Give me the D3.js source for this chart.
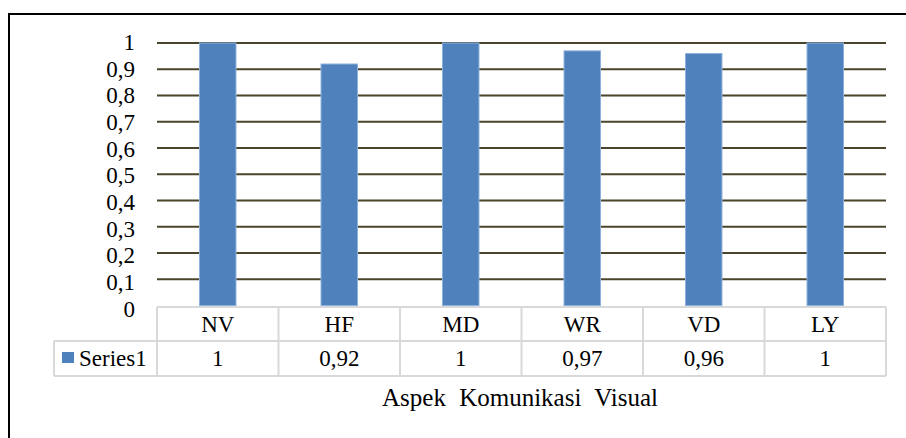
<!DOCTYPE html>
<html><head><meta charset="utf-8">
<script src="https://cdn.jsdelivr.net/npm/d3@7"></script>
<style>body{margin:0;background:#fff}svg{display:block}text{font-family:"Liberation Serif","Times New Roman",serif}</style>
</head><body>
<svg id="c" width="906" height="438"></svg>
<script>
const categories = ["NV","HF","MD","WR","VD","LY"];
const values = [1, 0.92, 1, 0.97, 0.96, 1];
const valueLabels = ["1","0,92","1","0,97","0,96","1"];
const yTicks = [0,0.1,0.2,0.3,0.4,0.5,0.6,0.7,0.8,0.9,1];
const seriesName = "Series1";
const axisTitle = "Aspek Komunikasi Visual";

const svg = d3.select("#c");
const FF = "Liberation Serif, Times New Roman, serif";
const FS = 23;
const L = 157, R = 886, T = 43, B = 305.5;
const x = d3.scaleBand().domain(categories).range([L, R]).paddingInner(0.7).paddingOuter(0.35);
const xc = d3.scaleBand().domain(categories).range([L, R]);
const y = d3.scaleLinear().domain([0, 1]).range([B, T]);
const yLab = d3.scaleLinear().domain([0, 1]).range([B + 11, T + 7]);

// outer border
svg.append("rect").attr("x", 9).attr("y", 14).attr("width", 910).attr("height", 440)
  .attr("fill", "none").attr("stroke", "#000").attr("stroke-width", 2);

// gridlines
svg.append("g").selectAll("line").data(yTicks.filter(d => d > 0)).join("line")
  .attr("x1", L).attr("x2", R).attr("y1", d => y(d)).attr("y2", d => y(d))
  .attr("stroke", "#4a452a").attr("stroke-width", 2);

// y labels
svg.append("g").selectAll("text").data(yTicks).join("text")
  .attr("x", 135).attr("y", d => yLab(d)).attr("text-anchor", "end")
  .attr("font-family", FF).attr("font-size", FS).attr("fill", "#000")
  .text(d => d3.format(".1~f")(d).replace(".", ","));

// bars
svg.append("g").selectAll("rect").data(values).join("rect")
  .attr("x", (d, i) => x(categories[i])).attr("width", x.bandwidth())
  .attr("y", d => y(d)).attr("height", d => B - y(d))
  .attr("fill", "#4f81bd").attr("stroke", "#8eb1dc").attr("stroke-width", 1);

// data table
const r1T = 307, r1B = 341, r2B = 376, legL = 54;
const g = svg.append("g").attr("stroke", "#d9d9d9").attr("stroke-width", 2);
g.append("line").attr("x1", L).attr("x2", R).attr("y1", r1T).attr("y2", r1T);
g.append("line").attr("x1", legL).attr("x2", R).attr("y1", r1B).attr("y2", r1B);
g.append("line").attr("x1", legL).attr("x2", R).attr("y1", r2B).attr("y2", r2B);
g.append("line").attr("x1", legL).attr("x2", legL).attr("y1", r1B).attr("y2", r2B);
g.selectAll("line.v").data(categories.map(c => xc(c)).concat([R])).join("line")
  .attr("class", "v").attr("x1", d => d).attr("x2", d => d).attr("y1", r1T).attr("y2", r2B);

svg.append("g").selectAll("text").data(categories).join("text")
  .attr("x", d => xc(d) + xc.bandwidth() / 2).attr("y", r1T + 25).attr("text-anchor", "middle")
  .attr("font-family", FF).attr("font-size", FS).text(d => d);
svg.append("g").selectAll("text").data(valueLabels).join("text")
  .attr("x", (d, i) => xc(categories[i]) + xc.bandwidth() / 2).attr("y", r1B + 25).attr("text-anchor", "middle")
  .attr("font-family", FF).attr("font-size", FS).text(d => d);

svg.append("rect").attr("x", 62).attr("y", 352).attr("width", 12).attr("height", 11).attr("fill", "#4f81bd");
svg.append("text").attr("x", 79).attr("y", r1B + 25).attr("font-family", FF).attr("font-size", FS).text(seriesName);

svg.append("text").attr("x", 520).attr("y", 406).attr("text-anchor", "middle")
  .attr("font-family", FF).attr("font-size", 25).attr("word-spacing", 7).text(axisTitle);
</script>
</body></html>
